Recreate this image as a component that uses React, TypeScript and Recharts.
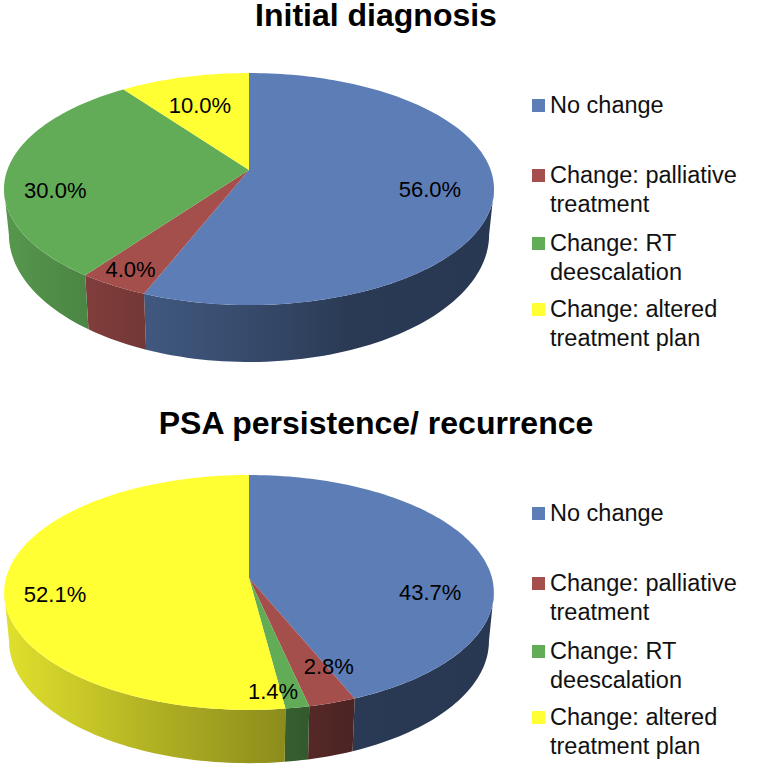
import { Legend, Pie, PieChart } from "recharts";

const categories = [
  "No change",
  "Change: palliative treatment",
  "Change: RT deescalation",
  "Change: altered treatment plan",
];
const legendLines = [
  ["No change"],
  ["Change: palliative", "treatment"],
  ["Change: RT", "deescalation"],
  ["Change: altered", "treatment plan"],
];
const colors = ["#5c7db6", "#a54f4c", "#62ac58", "#ffff33"];
const initialValues = [56.0, 4.0, 30.0, 10.0];
const psaValues = [43.7, 2.8, 1.4, 52.1];

// wall darkening from left to right, [x, brightness]
const wallShade = [
  [5, 0.88],
  [100, 0.76],
  [146, 0.7],
  [285, 0.55],
  [350, 0.46],
  [494, 0.45],
];

const legendRows = [105, 175, 243, 309];

type Look = {
  id: string;
  title: string;
  titleY: number;
  cy: number;
  radius: number;
  squash: number; // minor / major axis of the tilted disc
  tilt: number; // perspective strength
  wallScale: number;
  wallDrop: number;
  wallNarrow: number;
  labelNudge: number[][];
  legendTop: number;
};

const initialLook: Look = {
  id: "initial",
  title: "Initial diagnosis",
  titleY: 26,
  cy: 170,
  radius: 241.7,
  squash: 0.467,
  tilt: 0.164,
  wallScale: 1.1,
  wallDrop: 43.5,
  wallNarrow: 0.98,
  labelNudge: [[-64, -2], [17.5, -16.5], [48, 20], [15.6, 28]],
  legendTop: 0,
};

const psaLook: Look = {
  id: "psa",
  title: "PSA persistence/ recurrence",
  titleY: 50,
  cy: 194,
  radius: 243,
  squash: 0.476,
  tilt: 0.123,
  wallScale: 1.04,
  wallDrop: 48,
  wallNarrow: 0.98,
  labelNudge: [[-51.5, 37], [-3.6, -36], [-24.4, -16.5], [50.5, 9.3]],
  legendTop: 24,
};

function project(look: Look, radius: number, deg: number) {
  const t = (deg * Math.PI) / 180;
  const u = Math.sin(t);
  const v = -Math.cos(t);
  const w = 1 - look.tilt * v;
  return { x: (radius * u) / w, y: (radius * look.squash * v) / w };
}

function darken(hex: string, k: number) {
  const n = parseInt(hex.slice(1), 16);
  const r = Math.round(((n >> 16) & 255) * k);
  const g = Math.round(((n >> 8) & 255) * k);
  const b = Math.round((n & 255) * k);
  return `rgb(${r},${g},${b})`;
}

function sliceShape(look: Look) {
  return (props: any) => {
    const { cx, cy, outerRadius, startAngle, endAngle, fill } = props;
    const from = 90 - startAngle;
    const to = 90 - endAngle;
    const top: string[] = [`${cx},${cy}`];
    const steps = Math.max(4, Math.ceil((to - from) / 1.5));
    for (let i = 0; i <= steps; i++) {
      const p = project(look, outerRadius, from + ((to - from) * i) / steps);
      top.push(`${cx + p.x},${cy + p.y}`);
    }

    // only the front of the rim has a visible wall
    const edge = (Math.acos(-look.tilt) * 180) / Math.PI;
    const a = Math.max(from, edge);
    const b = Math.min(to, 360 - edge);
    const upper: string[] = [];
    const lower: string[] = [];
    if (b > a) {
      const n = Math.max(4, Math.ceil((b - a) / 1.5));
      for (let i = 0; i <= n; i++) {
        const p = project(look, outerRadius, a + ((b - a) * i) / n);
        upper.push(`${cx + p.x},${cy + p.y}`);
        lower.unshift(
          `${cx + p.x * look.wallNarrow},${cy + p.y * look.wallScale + look.wallDrop}`
        );
      }
    }
    const gradId = `${look.id}-wall-${fill.slice(1)}`;
    return (
      <g>
        <defs>
          <linearGradient id={gradId} gradientUnits="userSpaceOnUse" x1={5} x2={494} y1={0} y2={0}>
            {wallShade.map(([x, k]) => (
              <stop key={x} offset={(x - 5) / 489} stopColor={darken(fill, k)} />
            ))}
          </linearGradient>
        </defs>
        {b > a && <polygon points={[...upper, ...lower].join(" ")} fill={`url(#${gradId})`} />}
        <polygon points={top.join(" ")} fill={fill} />
      </g>
    );
  };
}

function sliceLabel(look: Look) {
  return (props: any) => {
    const { cx, cy, outerRadius, midAngle, index, value } = props;
    const p = project(look, outerRadius, 90 - midAngle);
    const [dx, dy] = look.labelNudge[index];
    return (
      <text
        x={cx + p.x + dx}
        y={cy + p.y + dy}
        textAnchor="middle"
        dominantBaseline="central"
        fill="#000"
        fontSize={22}
        fontFamily="Liberation Sans"
      >
        {Number(value).toFixed(1)}%
      </text>
    );
  };
}

function LegendBlock({ look }: { look: Look }) {
  return (
    <div style={{ position: "relative", width: 225, height: 300, fontFamily: "Liberation Sans", fontSize: 23.5, color: "#111" }}>
      {legendLines.map((lines, i) => (
        <div key={i}>
          <div
            style={{
              position: "absolute",
              left: 0,
              top: legendRows[i] + look.legendTop - 6,
              width: 13,
              height: 13,
              background: colors[i],
            }}
          />
          {lines.map((line, j) => (
            <div
              key={line}
              style={{
                position: "absolute",
                left: 18,
                top: legendRows[i] + look.legendTop - 15 + j * 29,
                lineHeight: "30px",
                whiteSpace: "nowrap",
              }}
            >
              {line}
            </div>
          ))}
        </div>
      ))}
    </div>
  );
}

function TiltedPie({ look, values }: { look: Look; values: number[] }) {
  const rows = categories.map((name, i) => ({ name, value: values[i], fill: colors[i] }));
  return (
    <PieChart width={757} height={384} margin={{ top: 0, right: 0, bottom: 0, left: 0 }}>
      <text
        x={376}
        y={look.titleY}
        textAnchor="middle"
        fontSize={32}
        fontWeight="bold"
        fontFamily="Liberation Sans"
        fill="#000"
      >
        {look.title}
      </text>
      <Pie
        data={rows}
        dataKey="value"
        nameKey="name"
        cx={249}
        cy={look.cy}
        outerRadius={look.radius}
        startAngle={90}
        endAngle={-270}
        stroke="none"
        isAnimationActive={false}
        labelLine={false}
        label={sliceLabel(look)}
        shape={sliceShape(look)}
      />
      <Legend
        content={() => <LegendBlock look={look} />}
        wrapperStyle={{ position: "absolute", left: 532, top: 0, width: 225 }}
      />
    </PieChart>
  );
}

export default function App() {
  return (
    <div style={{ position: "absolute", left: 0, top: 0, width: 757, height: 768, background: "#fff", overflow: "hidden" }}>
      <TiltedPie look={initialLook} values={initialValues} />
      <TiltedPie look={psaLook} values={psaValues} />
    </div>
  );
}
